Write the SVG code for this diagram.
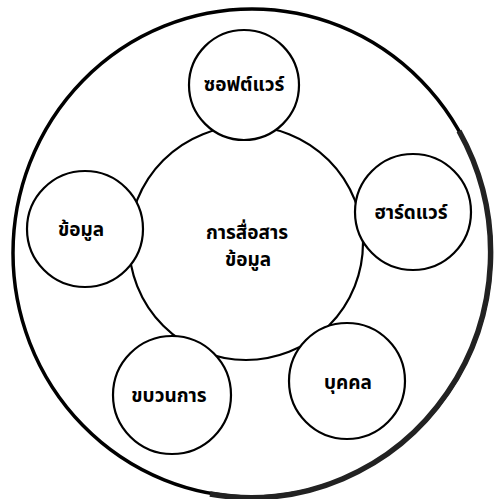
<svg xmlns="http://www.w3.org/2000/svg" width="494" height="499" viewBox="0 0 494 499">
<style>
.c{fill:#fff;stroke:#000;stroke-width:2.2}
.t{font-family:"Noto Sans Thai","Noto Sans","Liberation Sans",sans-serif;font-weight:bold;font-size:19px;text-anchor:middle;fill:#000}
</style>
<rect width="494" height="499" fill="#fff"/>
<g id="outer">
<ellipse cx="252" cy="253" rx="239" ry="244" fill="#fff" stroke="#000" stroke-width="3.5"/>
<path d="M459 131 A240 245 0 0 1 210 494" fill="none" stroke="#222" stroke-width="5.5"/>
</g>
<g id="center">
<circle class="c" cx="246" cy="243" r="117"/>
<text class="t" x="247" y="239">การสื่อสาร</text>
<text class="t" x="248" y="266">ข้อมูล</text>
</g>
<g id="software">
<circle class="c" cx="244" cy="85" r="55"/>
<text class="t" x="244" y="91">ซอฟต์แวร์</text>
</g>
<g id="hardware">
<circle class="c" cx="413" cy="212" r="58"/>
<text class="t" x="411" y="219">ฮาร์ดแวร์</text>
</g>
<g id="data">
<circle class="c" cx="85" cy="229" r="58"/>
<text class="t" x="81" y="236">ข้อมูล</text>
</g>
<g id="process">
<circle class="c" cx="172" cy="395" r="59"/>
<text class="t" x="169" y="402">ขบวนการ</text>
</g>
<g id="people">
<circle class="c" cx="347" cy="381" r="58"/>
<text class="t" x="348" y="389">บุคคล</text>
</g>
</svg>
